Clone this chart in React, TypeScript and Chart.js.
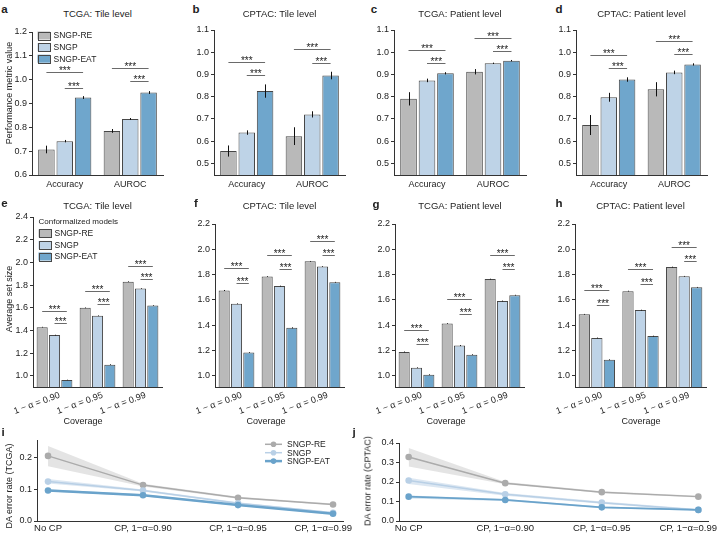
import React, { useEffect, useRef } from "react";
import { Chart, registerables } from "chart.js";

Chart.register(...registerables);

const FONT = "'Liberation Sans', Arial, Helvetica, sans-serif";
const AXIS = "#333333";
const TEXT = "#222222";
const SIG_LINE = "#6a6a6a";

// ---- shared categories ----
const MODELS = ["SNGP-RE", "SNGP", "SNGP-EAT"];
const BAR_FILL = ["#b9b9b9", "#bed3e7", "#6fa6cc"];
const BAR_EDGE = "#474747";
const LINE_COLOR = ["#ababab", "#b9d0e6", "#6aa3cb"];
const BAND_COLOR = ["rgba(170,170,170,0.32)", "rgba(185,208,230,0.5)", "rgba(106,163,203,0.3)"];

const METRICS = ["Accuracy", "AUROC"];
const COVERAGE = ["1 − α = 0.90", "1 − α = 0.95", "1 − α = 0.99"];
const CP_SETTINGS = ["No CP", "CP, 1−α=0.90", "CP, 1−α=0.95", "CP, 1−α=0.99"];

// ---- tick values ----
const METRIC_TICKS_TCGA_TILE = [0.6, 0.7, 0.8, 0.9, 1.0, 1.1, 1.2];
const METRIC_TICKS = [0.5, 0.6, 0.7, 0.8, 0.9, 1.0, 1.1];
const SET_TICKS_TCGA_TILE = [1.0, 1.2, 1.4, 1.6, 1.8, 2.0, 2.2, 2.4];
const SET_TICKS = [1.0, 1.2, 1.4, 1.6, 1.8, 2.0, 2.2];
const DA_TICKS_TCGA = [0.0, 0.1, 0.2];
const DA_TICKS_CPTAC = [0.0, 0.1, 0.2, 0.3, 0.4];

// ---- performance metrics (rows: SNGP-RE, SNGP, SNGP-EAT; cols: Accuracy, AUROC) ----
const TCGA_TILE_MEAN = [[0.707, 0.785], [0.742, 0.835], [0.925, 0.946]];
const TCGA_TILE_ERR = [[0.016, 0.008], [0.005, 0.004], [0.006, 0.006]];
const TCGA_TILE_SIG = [[1.032, 0.965], [1.05, 0.995]];

const CPTAC_TILE_MEAN = [[0.555, 0.622], [0.638, 0.72], [0.825, 0.895]];
const CPTAC_TILE_ERR = [[0.025, 0.04], [0.01, 0.014], [0.03, 0.017]];
const CPTAC_TILE_SIG = [[0.957, 0.896], [1.013, 0.953]];

const TCGA_PATIENT_MEAN = [[0.79, 0.912], [0.873, 0.95], [0.905, 0.962]];
const TCGA_PATIENT_ERR = [[0.03, 0.012], [0.008, 0.003], [0.005, 0.003]];
const TCGA_PATIENT_SIG = [[1.01, 0.95], [1.065, 1.005]];

const CPTAC_PATIENT_MEAN = [[0.672, 0.833], [0.797, 0.909], [0.877, 0.945]];
const CPTAC_PATIENT_ERR = [[0.045, 0.032], [0.02, 0.008], [0.01, 0.005]];
const CPTAC_PATIENT_SIG = [[0.987, 0.927], [1.05, 0.99]];

// ---- average prediction set size (cols: coverage 0.90, 0.95, 0.99) ----
const TCGA_TILE_SET = [[1.43, 1.60, 1.83], [1.36, 1.53, 1.77], [0.965, 1.10, 1.62]];
const TCGA_TILE_SET_ERR = [[0.003, 0.003, 0.003], [0.003, 0.003, 0.003], [0.002, 0.003, 0.003]];
const TCGA_TILE_SET_SIG = [[1.575, 1.467], [1.75, 1.63], [1.97, 1.857]];

const CPTAC_TILE_SET = [[1.675, 1.785, 1.905], [1.57, 1.71, 1.865], [1.185, 1.38, 1.74]];
const CPTAC_TILE_SET_ERR = [[0.004, 0.003, 0.003], [0.003, 0.003, 0.003], [0.003, 0.004, 0.003]];
const CPTAC_TILE_SET_SIG = [[1.85, 1.737], [1.955, 1.842], [2.068, 1.958]];

const TCGA_PATIENT_SET = [[1.19, 1.415, 1.765], [1.065, 1.24, 1.592], [1.01, 1.168, 1.638]];
const TCGA_PATIENT_SET_ERR = [[0.003, 0.003, 0.003], [0.003, 0.004, 0.003], [0.003, 0.003, 0.003]];
const TCGA_PATIENT_SET_SIG = [[1.366, 1.255], [1.61, 1.49], [1.955, 1.845]];

const CPTAC_PATIENT_SET = [[1.487, 1.67, 1.86], [1.30, 1.52, 1.787], [1.128, 1.315, 1.70]];
const CPTAC_PATIENT_SET_ERR = [[0.003, 0.003, 0.003], [0.003, 0.003, 0.003], [0.003, 0.003, 0.003]];
const CPTAC_PATIENT_SET_SIG = [[1.677, 1.564], [1.843, 1.73], [2.018, 1.908]];

// ---- distribution-shift detection error rate (cols: No CP, 0.90, 0.95, 0.99) ----
const DA_TCGA_MEAN = [[0.205, 0.113, 0.073, 0.052], [0.124, 0.096, 0.056, 0.026], [0.096, 0.081, 0.05, 0.023]];
const DA_TCGA_LO = [[0.172, 0.109, 0.070, 0.050], [0.118, 0.093, 0.053, 0.024], [0.093, 0.078, 0.048, 0.021]];
const DA_TCGA_HI = [[0.236, 0.117, 0.076, 0.055], [0.132, 0.099, 0.059, 0.028], [0.100, 0.084, 0.052, 0.025]];

const DA_CPTAC_MEAN = [[0.328, 0.194, 0.148, 0.125], [0.208, 0.137, 0.094, 0.057], [0.125, 0.108, 0.07, 0.057]];
const DA_CPTAC_LO = [[0.28, 0.188, 0.143, 0.12], [0.19, 0.13, 0.088, 0.053], [0.116, 0.103, 0.065, 0.052]];
const DA_CPTAC_HI = [[0.375, 0.2, 0.152, 0.129], [0.222, 0.143, 0.1, 0.061], [0.131, 0.113, 0.075, 0.061]];

const PAD_TOP = 12;
const PAD_RIGHT = 6;

type Box = { x: number; y: number; w: number; h: number };

function fmt1(v: number) {
  return Number(v).toFixed(1);
}

// vertical error whiskers centred on each bar
function makeErrorBars(errs: number[][]) {
  return {
    id: "errorBars",
    afterDatasetsDraw(chart: any) {
      const { ctx } = chart;
      const ys = chart.scales.y;
      ctx.save();
      ctx.strokeStyle = "#111111";
      ctx.lineWidth = 1;
      chart.data.datasets.forEach((ds: any, i: number) => {
        const meta = chart.getDatasetMeta(i);
        meta.data.forEach((bar: any, j: number) => {
          const v = ds.data[j] as number;
          const e = errs[i][j];
          const x = Math.round(bar.x) + 0.5;
          ctx.beginPath();
          ctx.moveTo(x, ys.getPixelForValue(v + e));
          ctx.lineTo(x, ys.getPixelForValue(v - e));
          ctx.stroke();
        });
      });
      ctx.restore();
    },
  };
}

// significance brackets: long (SNGP-RE vs SNGP-EAT) and short (SNGP vs SNGP-EAT)
function makeSignificance(levels: number[][]) {
  return {
    id: "significance",
    afterDatasetsDraw(chart: any) {
      const { ctx } = chart;
      const ys = chart.scales.y;
      const m0 = chart.getDatasetMeta(0).data;
      const m1 = chart.getDatasetMeta(1).data;
      const m2 = chart.getDatasetMeta(2).data;
      ctx.save();
      ctx.strokeStyle = SIG_LINE;
      ctx.lineWidth = 1;
      ctx.fillStyle = TEXT;
      ctx.font = `10px ${FONT}`;
      ctx.textAlign = "center";
      ctx.textBaseline = "alphabetic";
      levels.forEach((lv, j) => {
        const pairs = [
          [m0[j].x, m2[j].x, lv[0]],
          [m1[j].x, m2[j].x, lv[1]],
        ];
        pairs.forEach(([xa, xb, v]) => {
          const y = Math.round(ys.getPixelForValue(v)) + 0.5;
          ctx.beginPath();
          ctx.moveTo(xa, y);
          ctx.lineTo(xb, y);
          ctx.stroke();
          ctx.fillText("***", (xa + xb) / 2, y + 1.5);
        });
      });
      ctx.restore();
    },
  };
}

function makeBarLegend(title?: string) {
  return {
    id: "barLegend",
    afterDraw(chart: any) {
      const { ctx, chartArea } = chart;
      const x0 = chartArea.left + 5.5;
      let y = chartArea.top + (title ? 4.7 : 3.5);
      ctx.save();
      ctx.textBaseline = "middle";
      ctx.textAlign = "left";
      ctx.fillStyle = TEXT;
      if (title) {
        ctx.font = `8px ${FONT}`;
        ctx.fillText(title, x0, y);
        y += 11.6;
      }
      ctx.font = `8.5px ${FONT}`;
      MODELS.forEach((m, i) => {
        ctx.fillStyle = BAR_FILL[i];
        ctx.fillRect(x0, y - 4, 12.5, 8);
        ctx.strokeStyle = BAR_EDGE;
        ctx.lineWidth = 1;
        ctx.strokeRect(Math.round(x0) + 0.5, Math.round(y - 4) + 0.5, 12, 8);
        ctx.fillStyle = TEXT;
        ctx.fillText(m, x0 + 16, y + 0.5);
        y += 11.6;
      });
      ctx.restore();
    },
  };
}

function makeLineLegend(widths: number[]) {
  return {
    id: "lineLegend",
    afterDraw(chart: any) {
      const { ctx, chartArea } = chart;
      const x0 = chartArea.left + 228;
      ctx.save();
      ctx.textBaseline = "middle";
      ctx.textAlign = "left";
      ctx.font = `8.5px ${FONT}`;
      MODELS.forEach((m, i) => {
        const y = chartArea.top + 4.3 + i * 8.4;
        ctx.strokeStyle = LINE_COLOR[i];
        ctx.lineWidth = widths[i];
        ctx.beginPath();
        ctx.moveTo(x0, y);
        ctx.lineTo(x0 + 17, y);
        ctx.stroke();
        ctx.fillStyle = LINE_COLOR[i];
        ctx.beginPath();
        ctx.arc(x0 + 8.5, y, 2.8, 0, Math.PI * 2);
        ctx.fill();
        ctx.fillStyle = TEXT;
        ctx.fillText(m, x0 + 22, y + 0.5);
      });
      ctx.restore();
    },
  };
}

// category labels under the line panels, kept inside the panel's right edge
function makeCpLabels(labels: string[], overhang: number) {
  return {
    id: "cpLabels",
    afterDraw(chart: any) {
      const { ctx, chartArea } = chart;
      const xs = chart.scales.x;
      ctx.save();
      ctx.font = `9.5px ${FONT}`;
      ctx.fillStyle = TEXT;
      ctx.textAlign = "center";
      ctx.textBaseline = "top";
      labels.forEach((t, k) => {
        const w = ctx.measureText(t).width;
        let cx = xs.getPixelForValue(k);
        const limit = chartArea.right + overhang;
        if (cx + w / 2 > limit) cx = limit - w / 2;
        ctx.fillText(t, cx, chartArea.bottom + 2.5);
      });
      ctx.restore();
    },
  };
}

type BarSpec = {
  canvasLeft: number;
  plotLeft: number;
  plotRight: number;
  plotTop: number;
  plotBottom: number;
  xh: number;
  yMin: number;
  yMax: number;
  yTicks: number[];
  labels: string[];
  means: number[][];
  errs: number[][];
  sig: number[][];
  rotate: boolean;
  catPct: number;
  legend?: boolean;
  legendTitle?: string;
};

function barChart(s: BarSpec): { box: Box; config: any } {
  const yw = s.plotLeft - s.canvasLeft;
  const top = s.plotTop - PAD_TOP;
  const box = { x: s.canvasLeft, y: top, w: s.plotRight + PAD_RIGHT - s.canvasLeft, h: s.plotBottom + s.xh - top };
  const plugins: any[] = [makeErrorBars(s.errs), makeSignificance(s.sig)];
  if (s.legend) plugins.push(makeBarLegend(s.legendTitle));
  const config = {
    type: "bar",
    data: {
      labels: s.labels,
      datasets: MODELS.map((m, i) => ({
        label: m,
        data: s.means[i],
        backgroundColor: BAR_FILL[i],
        borderColor: BAR_EDGE,
        borderWidth: 1,
        categoryPercentage: s.catPct,
        barPercentage: 0.9,
      })),
    },
    options: {
      responsive: false,
      animation: false,
      devicePixelRatio: 1,
      layout: { padding: { top: PAD_TOP, right: PAD_RIGHT, left: 0, bottom: 0 } },
      plugins: { legend: { display: false }, tooltip: { enabled: false }, title: { display: false } },
      scales: {
        x: {
          type: "category",
          offset: true,
          grid: { display: false, drawTicks: false },
          border: { display: true, color: AXIS, width: 1 },
          ticks: {
            color: TEXT,
            font: { family: FONT, size: 9 },
            padding: s.rotate ? 3 : 4,
            autoSkip: false,
            minRotation: s.rotate ? 20 : 0,
            maxRotation: s.rotate ? 20 : 0,
            labelOffset: s.rotate ? 5 : 0,
          },
          afterFit: (sc: any) => {
            sc.height = s.xh;
            sc.paddingLeft = 0;
            sc.paddingRight = 0;
          },
        },
        y: {
          type: "linear",
          min: s.yMin,
          max: s.yMax,
          afterBuildTicks: (sc: any) => {
            sc.ticks = s.yTicks.map((v) => ({ value: v }));
          },
          ticks: { color: TEXT, font: { family: FONT, size: 9 }, padding: 2, callback: (v: any) => fmt1(v) },
          grid: { display: true, drawOnChartArea: false, drawTicks: true, tickLength: 3, color: AXIS },
          border: { display: true, color: AXIS, width: 1 },
          afterFit: (sc: any) => {
            sc.width = yw;
          },
        },
      },
    },
    plugins,
  };
  return { box, config };
}

type LineSpec = {
  canvasLeft: number;
  plotLeft: number;
  plotRight: number;
  plotTop: number;
  plotBottom: number;
  padRight: number;
  xMin: number;
  xMax: number;
  yMax: number;
  yTicks: number[];
  mean: number[][];
  lo: number[][];
  hi: number[][];
  widths: number[];
  legend?: boolean;
};

function lineChart(s: LineSpec): { box: Box; config: any } {
  const yw = s.plotLeft - s.canvasLeft;
  const padTop = 10;
  const top = s.plotTop - padTop;
  const xh = 535 - s.plotBottom;
  const box = { x: s.canvasLeft, y: top, w: s.plotRight + s.padRight - s.canvasLeft, h: s.plotBottom + xh - top };
  const pts = (arr: number[]) => arr.map((v, k) => ({ x: k, y: v }));
  const datasets: any[] = [];
  MODELS.forEach((m, i) => {
    datasets.push({
      label: `${m} upper`,
      data: pts(s.hi[i]),
      borderWidth: 0,
      pointRadius: 0,
      fill: "+1",
      backgroundColor: BAND_COLOR[i],
      order: 10 + i,
    });
    datasets.push({
      label: `${m} lower`,
      data: pts(s.lo[i]),
      borderWidth: 0,
      pointRadius: 0,
      fill: false,
      order: 10 + i,
    });
  });
  MODELS.forEach((m, i) => {
    datasets.push({
      label: m,
      data: pts(s.mean[i]),
      borderColor: LINE_COLOR[i],
      backgroundColor: LINE_COLOR[i],
      borderWidth: s.widths[i],
      pointRadius: 3.3,
      pointBorderWidth: 0,
      fill: false,
      tension: 0,
      order: 2 - i,
    });
  });
  const plugins: any[] = [makeCpLabels(CP_SETTINGS, 9)];
  if (s.legend) plugins.push(makeLineLegend(s.widths));
  const config = {
    type: "line",
    data: { datasets },
    options: {
      responsive: false,
      animation: false,
      devicePixelRatio: 1,
      layout: { padding: { top: padTop, right: s.padRight, left: 0, bottom: 0 } },
      plugins: { legend: { display: false }, tooltip: { enabled: false }, title: { display: false } },
      scales: {
        x: {
          type: "linear",
          min: s.xMin,
          max: s.xMax,
          grid: { display: false, drawTicks: false },
          border: { display: true, color: AXIS, width: 1 },
          ticks: { display: false },
          afterFit: (sc: any) => {
            sc.height = xh;
            sc.paddingLeft = 0;
            sc.paddingRight = 0;
          },
        },
        y: {
          type: "linear",
          min: 0,
          max: s.yMax,
          afterBuildTicks: (sc: any) => {
            sc.ticks = s.yTicks.map((v) => ({ value: v }));
          },
          ticks: { color: TEXT, font: { family: FONT, size: 9 }, padding: 2, callback: (v: any) => fmt1(v) },
          grid: { display: true, drawOnChartArea: false, drawTicks: true, tickLength: 3, color: AXIS },
          border: { display: true, color: AXIS, width: 1 },
          afterFit: (sc: any) => {
            sc.width = yw;
          },
        },
      },
    },
    plugins,
  };
  return { box, config };
}

const PANEL_A = barChart({
  canvasLeft: 0, plotLeft: 32, plotRight: 163, plotTop: 32, plotBottom: 175, xh: 22,
  yMin: 0.6, yMax: 1.2, yTicks: METRIC_TICKS_TCGA_TILE, labels: METRICS,
  means: TCGA_TILE_MEAN, errs: TCGA_TILE_ERR, sig: TCGA_TILE_SIG, rotate: false, catPct: 0.84, legend: true,
});
const PANEL_B = barChart({
  canvasLeft: 176, plotLeft: 214, plotRight: 345, plotTop: 30, plotBottom: 175, xh: 22,
  yMin: 0.447, yMax: 1.1, yTicks: METRIC_TICKS, labels: METRICS,
  means: CPTAC_TILE_MEAN, errs: CPTAC_TILE_ERR, sig: CPTAC_TILE_SIG, rotate: false, catPct: 0.84,
});
const PANEL_C = barChart({
  canvasLeft: 356, plotLeft: 394, plotRight: 526, plotTop: 30, plotBottom: 175, xh: 22,
  yMin: 0.447, yMax: 1.1, yTicks: METRIC_TICKS, labels: METRICS,
  means: TCGA_PATIENT_MEAN, errs: TCGA_PATIENT_ERR, sig: TCGA_PATIENT_SIG, rotate: false, catPct: 0.84,
});
const PANEL_D = barChart({
  canvasLeft: 538, plotLeft: 576, plotRight: 707, plotTop: 30, plotBottom: 175, xh: 22,
  yMin: 0.447, yMax: 1.1, yTicks: METRIC_TICKS, labels: METRICS,
  means: CPTAC_PATIENT_MEAN, errs: CPTAC_PATIENT_ERR, sig: CPTAC_PATIENT_SIG, rotate: false, catPct: 0.84,
});
const PANEL_E = barChart({
  canvasLeft: 0, plotLeft: 33, plotRight: 162, plotTop: 217, plotBottom: 387, xh: 30,
  yMin: 0.903, yMax: 2.4, yTicks: SET_TICKS_TCGA_TILE, labels: COVERAGE,
  means: TCGA_TILE_SET, errs: TCGA_TILE_SET_ERR, sig: TCGA_TILE_SET_SIG, rotate: true, catPct: 0.86,
  legend: true, legendTitle: "Conformalized models",
});
const PANEL_F = barChart({
  canvasLeft: 176, plotLeft: 215, plotRight: 344, plotTop: 224, plotBottom: 387, xh: 30,
  yMin: 0.913, yMax: 2.2, yTicks: SET_TICKS, labels: COVERAGE,
  means: CPTAC_TILE_SET, errs: CPTAC_TILE_SET_ERR, sig: CPTAC_TILE_SET_SIG, rotate: true, catPct: 0.86,
});
const PANEL_G = barChart({
  canvasLeft: 356, plotLeft: 395, plotRight: 524, plotTop: 224, plotBottom: 387, xh: 30,
  yMin: 0.913, yMax: 2.2, yTicks: SET_TICKS, labels: COVERAGE,
  means: TCGA_PATIENT_SET, errs: TCGA_PATIENT_SET_ERR, sig: TCGA_PATIENT_SET_SIG, rotate: true, catPct: 0.86,
});
const PANEL_H = barChart({
  canvasLeft: 538, plotLeft: 575, plotRight: 706, plotTop: 224, plotBottom: 387, xh: 30,
  yMin: 0.913, yMax: 2.2, yTicks: SET_TICKS, labels: COVERAGE,
  means: CPTAC_PATIENT_SET, errs: CPTAC_PATIENT_SET_ERR, sig: CPTAC_PATIENT_SET_SIG, rotate: true, catPct: 0.86,
});
const PANEL_I = lineChart({
  canvasLeft: 0, plotLeft: 37, plotRight: 343, plotTop: 440, plotBottom: 521, padRight: 14,
  xMin: -0.116, xMax: 3.105, yMax: 0.255, yTicks: DA_TICKS_TCGA,
  mean: DA_TCGA_MEAN, lo: DA_TCGA_LO, hi: DA_TCGA_HI, widths: [1.5, 1.5, 2.5], legend: true,
});
const PANEL_J = lineChart({
  canvasLeft: 360, plotLeft: 399, plotRight: 708, plotTop: 443, plotBottom: 521, padRight: 11,
  xMin: -0.1, xMax: 3.1, yMax: 0.4, yTicks: DA_TICKS_CPTAC,
  mean: DA_CPTAC_MEAN, lo: DA_CPTAC_LO, hi: DA_CPTAC_HI, widths: [1.5, 1.5, 1.8],
});

const PANELS = [PANEL_A, PANEL_B, PANEL_C, PANEL_D, PANEL_E, PANEL_F, PANEL_G, PANEL_H, PANEL_I, PANEL_J];

type Label = { t: string; x: number; y: number; size: number; bold?: boolean; rot?: boolean };

const LABELS: Label[] = [
  { t: "a", x: 4.5, y: 10, size: 11.5, bold: true },
  { t: "b", x: 196, y: 10, size: 11.5, bold: true },
  { t: "c", x: 374, y: 10, size: 11.5, bold: true },
  { t: "d", x: 559, y: 10, size: 11.5, bold: true },
  { t: "e", x: 4.5, y: 204, size: 11.5, bold: true },
  { t: "f", x: 196, y: 204, size: 11.5, bold: true },
  { t: "g", x: 376, y: 205, size: 11.5, bold: true },
  { t: "h", x: 559, y: 204, size: 11.5, bold: true },
  { t: "i", x: 3, y: 433, size: 11.5, bold: true },
  { t: "j", x: 354, y: 433, size: 11.5, bold: true },
  { t: "TCGA: Tile level", x: 97.5, y: 14, size: 9.5 },
  { t: "CPTAC: Tile level", x: 279.5, y: 14, size: 9.5 },
  { t: "TCGA: Patient level", x: 460, y: 14, size: 9.5 },
  { t: "CPTAC: Patient level", x: 641.5, y: 14, size: 9.5 },
  { t: "TCGA: Tile level", x: 97.5, y: 206, size: 9.5 },
  { t: "CPTAC: Tile level", x: 279.5, y: 206, size: 9.5 },
  { t: "TCGA: Patient level", x: 460, y: 206, size: 9.5 },
  { t: "CPTAC: Patient level", x: 640.5, y: 206, size: 9.5 },
  { t: "Coverage", x: 83, y: 421, size: 9 },
  { t: "Coverage", x: 266, y: 421, size: 9 },
  { t: "Coverage", x: 446, y: 421, size: 9 },
  { t: "Coverage", x: 641, y: 421, size: 9 },
  { t: "Performance metric value", x: 9, y: 93, size: 9, rot: true },
  { t: "Average set size", x: 9, y: 299, size: 9, rot: true },
  { t: "DA error rate (TCGA)", x: 9, y: 486, size: 9, rot: true },
  { t: "DA error rate (CPTAC)", x: 368, y: 481, size: 9, rot: true },
];

function ChartBox({ box, config }: { box: Box; config: any }) {
  const ref = useRef<HTMLCanvasElement>(null);
  useEffect(() => {
    const chart = new Chart(ref.current as HTMLCanvasElement, config);
    return () => chart.destroy();
  }, [config]);
  return (
    <canvas
      ref={ref}
      width={box.w}
      height={box.h}
      style={{ position: "absolute", left: box.x, top: box.y, width: box.w, height: box.h }}
    />
  );
}

export default function App() {
  return (
    <div
      style={{
        position: "fixed",
        left: 0,
        top: 0,
        width: 720,
        height: 535,
        background: "#ffffff",
        overflow: "hidden",
        fontFamily: FONT,
        color: TEXT,
      }}
    >
      {PANELS.map((p, k) => (
        <ChartBox key={k} box={p.box} config={p.config} />
      ))}
      {LABELS.map((l, k) => (
        <div
          key={`l${k}`}
          style={{
            position: "absolute",
            left: l.x,
            top: l.y,
            transform: `translate(-50%, -50%)${l.rot ? " rotate(-90deg)" : ""}`,
            fontSize: l.size,
            fontWeight: l.bold ? 700 : 400,
            lineHeight: 1,
            whiteSpace: "nowrap",
          }}
        >
          {l.t}
        </div>
      ))}
    </div>
  );
}
